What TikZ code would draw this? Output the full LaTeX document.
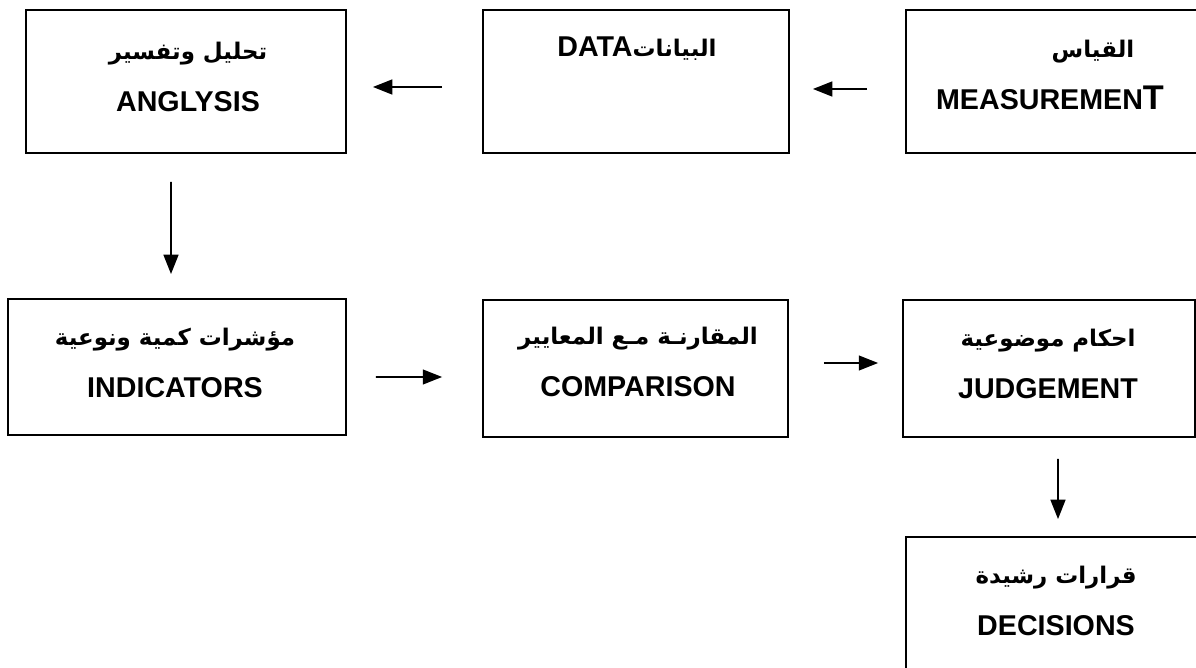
\documentclass[tikz,border=0pt]{standalone}
\usepackage{fontspec}
\setmainfont{Liberation Sans}
\newfontfamily\arabicfont[Script=Arabic,Scale=0.8]{DejaVu Sans}
\TeXXeTstate=1
\usetikzlibrary{arrows.meta}
\tikzset{
  box/.style={draw, line width=1.1pt, rectangle, inner sep=0pt},
  lbl/.style={align=center, inner sep=0pt, font=\bfseries\fontsize{16.3}{30}\selectfont},
  arr/.style={line width=0.9pt, -{Triangle[length=11pt,width=8.5pt]}}
}
\newcommand{\artxt}[1]{{\arabicfont\beginR #1\endR}}
\begin{document}
\begin{tikzpicture}[x=0.02cm,y=-0.02cm]
\useasboundingbox (0,0) rectangle (1196,668);

\node[box, minimum width=6.4cm, minimum height=2.86cm] (anal) at (186,81.5) {};
\node[box, minimum width=6.12cm, minimum height=2.86cm] (data) at (636,81.5) {};
\node[box, minimum width=5.86cm, minimum height=2.86cm] (meas) at (1052.5,81.5) {};
\node[box, minimum width=6.76cm, minimum height=2.72cm] (ind) at (177,367) {};
\node[box, minimum width=6.1cm, minimum height=2.74cm] (comp) at (635.5,368.5) {};
\node[box, minimum width=5.84cm, minimum height=2.74cm] (judg) at (1049,368.5) {};
\node[box, minimum width=6cm, minimum height=3.26cm] (dec) at (1056,618.5) {};

\node[lbl] (analtxt) at (188,77) {\artxt{تحليل وتفسير}\\ANGLYSIS};
\node[lbl] (datatxt) at (637,49) {\beginR\artxt{البيانات}DATA\endR};
\node[lbl] (meastxt) at (1050,75) {\hspace*{1.72cm}\artxt{القياس}\\MEASUREMEN{\fontsize{19.5}{30}\selectfont T}};
\node[lbl] (indtxt) at (175,363) {\artxt{مؤشرات كمية ونوعية}\\INDICATORS};
\node[lbl] (comptxt) at (638,362) {\artxt{المقارنـة مـع المعايير}\\COMPARISON};
\node[lbl] (judgtxt) at (1048,364) {\artxt{احكام موضوعية}\\JUDGEMENT};
\node[lbl] (dectxt) at (1056,601) {\artxt{قرارات رشيدة}\\DECISIONS};

\draw[arr] ([xshift=-0.8cm,yshift=-0.11cm]data.west) -- ([xshift=0.52cm,yshift=-0.11cm]anal.east);
\draw[arr] ([xshift=-0.76cm,yshift=-0.15cm]meas.west) -- ([xshift=0.46cm,yshift=-0.15cm]data.east);
\draw[arr] ([xshift=-0.3cm,yshift=-0.56cm]anal.south) -- ([xshift=-0.12cm,yshift=0.48cm]ind.north);
\draw[arr] ([xshift=0.58cm,yshift=-0.2cm]ind.east) -- ([xshift=-0.8cm,yshift=-0.17cm]comp.west);
\draw[arr] ([xshift=0.7cm,yshift=0.11cm]comp.east) -- ([xshift=-0.48cm,yshift=0.11cm]judg.west);
\draw[arr] ([xshift=0.18cm,yshift=-0.42cm]judg.south) -- ([xshift=0.04cm,yshift=0.34cm]dec.north);
\end{tikzpicture}
\end{document}
